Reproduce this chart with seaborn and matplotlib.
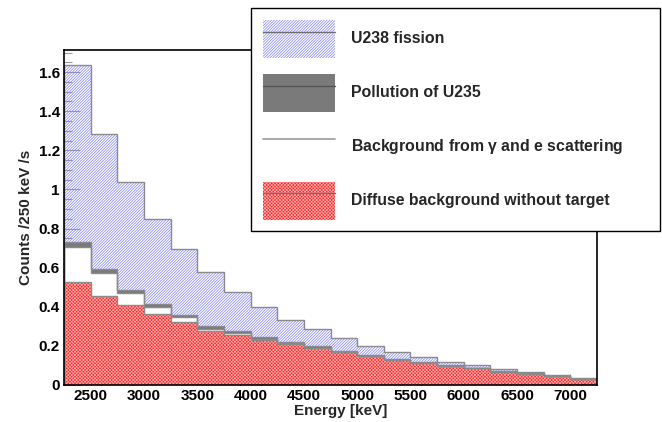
import numpy as np
import matplotlib
matplotlib.use("Agg")
import matplotlib.pyplot as plt
import seaborn as sns
from matplotlib.patches import Patch
from matplotlib.lines import Line2D
from matplotlib.ticker import MultipleLocator, FormatStrFormatter

# -----------------------------
# Data (counts /250 keV /s per energy bin)
# -----------------------------
bin_edges = [2250, 2500, 2750, 3000, 3250, 3500, 3750, 4000, 4250, 4500, 4750,
             5000, 5250, 5500, 5750, 6000, 6250, 6500, 6750, 7000, 7250]

diffuse_bkg = [0.528, 0.455, 0.408, 0.361, 0.323, 0.278, 0.258, 0.230, 0.212, 0.190,
               0.169, 0.148, 0.128, 0.114, 0.098, 0.085, 0.068, 0.056, 0.046, 0.031]
gamma_e_bkg = [0.178, 0.119, 0.061, 0.037, 0.023, 0.009, 0.006, 0.005, 0.002, 0.001,
               0.000, 0.000, 0.000, 0.000, 0.000, 0.000, 0.000, 0.000, 0.000, 0.000]
u235_pollution = [0.024, 0.021, 0.017, 0.015, 0.012, 0.013, 0.012, 0.011, 0.008, 0.007,
                  0.006, 0.005, 0.005, 0.004, 0.004, 0.003, 0.003, 0.003, 0.002, 0.002]
u238_fission = [0.906, 0.688, 0.550, 0.437, 0.336, 0.276, 0.201, 0.154, 0.112, 0.087,
                0.067, 0.048, 0.037, 0.027, 0.016, 0.012, 0.010, 0.005, 0.002, 0.002]

labels = ["U238 fission", "Pollution of U235",
          r"Background from $\gamma$ and e scattering", "Diffuse background without target"]

# -----------------------------
# Style
# -----------------------------
sns.set_style("ticks")
plt.rcParams["font.family"] = ["Liberation Sans", "DejaVu Sans"]
plt.rcParams["font.weight"] = "bold"
plt.rcParams["mathtext.fontset"] = "custom"
plt.rcParams["mathtext.rm"] = "Liberation Sans:bold"
plt.rcParams["mathtext.it"] = "Liberation Sans:bold"
plt.rcParams["hatch.linewidth"] = 0.5

BLUE = "#7f7fff"
RED = "#ff2626"
RED_DOTS = "#ffaaaa"
DARK = "#7a7a7a"
EDGE = "#8a8a8a"
BLUE_HATCH = "////////////"
RED_HATCH = "xxxxxxxxxx"

fig = plt.figure(figsize=(6.62, 4.22), dpi=100)
ax = fig.add_axes([0.0967, 0.0877, 0.8051, 0.7938])

edges = np.array(bin_edges)
layers = [diffuse_bkg, gamma_e_bkg, u235_pollution, u238_fission]
bottom = np.zeros(len(diffuse_bkg))
tops = []
for vals in layers:
    top = bottom + np.array(vals)
    tops.append((bottom.copy(), top))
    bottom = top

# diffuse background (red dotted fill)
b, t = tops[0]
ax.stairs(t, edges, baseline=b, fill=True, facecolor=RED, edgecolor=RED_DOTS,
          hatch=RED_HATCH, linewidth=0)
# gamma / e scattering (empty)
b, t = tops[1]
ax.stairs(t, edges, baseline=b, fill=True, facecolor="white", linewidth=0)
# U235 pollution (dark grey)
b, t = tops[2]
ax.stairs(t, edges, baseline=b, fill=True, facecolor=DARK, linewidth=0)
# U238 fission (blue hatch, transparent)
b, t = tops[3]
ax.stairs(t, edges, baseline=b, fill=True, facecolor="none", edgecolor=BLUE,
          hatch=BLUE_HATCH, linewidth=0)

# outlines of each stacked level
for b, t in tops:
    ax.stairs(t, edges, fill=False, color=EDGE, linewidth=1.0)

ax.set_xlim(2250, 7250)
ax.set_ylim(0, 1.713)
ax.set_axisbelow(True)

ax.xaxis.set_minor_locator(MultipleLocator(100))
ax.yaxis.set_major_locator(MultipleLocator(0.2))
ax.yaxis.set_minor_locator(MultipleLocator(0.05))
ax.yaxis.set_major_formatter(FormatStrFormatter("%g"))
ax.set_xticks([2500, 3000, 3500, 4000, 4500, 5000, 5500, 6000, 6500, 7000])

ax.tick_params(axis="both", which="both", direction="in", color="#999999", width=0.8,
               labelsize=11, labelcolor="black", top=False, right=False)
ax.tick_params(axis="y", which="major", length=11.5, pad=3)
ax.tick_params(axis="y", which="minor", length=5.8)
ax.tick_params(axis="x", which="major", length=8, pad=3)
ax.tick_params(axis="x", which="minor", length=4)
for lab in ax.get_xticklabels() + ax.get_yticklabels():
    lab.set_fontweight("bold")

for sp in ax.spines.values():
    sp.set_visible(True)
    sp.set_color("black")
    sp.set_linewidth(1.2)

ax.set_xlabel("Energy [keV]", fontsize=11, fontweight="bold")
ax.xaxis.set_label_coords(0.52, -0.056)
ax.set_ylabel("Counts /250 keV /s", fontsize=11, fontweight="bold")
ax.yaxis.set_label_coords(-0.058, 0.5)

# -----------------------------
# Legend
# -----------------------------
handles = [
    (Patch(facecolor="none", edgecolor=BLUE, hatch=BLUE_HATCH, linewidth=0),
     Line2D([], [], color="#6e6e6e", linewidth=1.0)),
    (Patch(facecolor=DARK, edgecolor=DARK, linewidth=0),
     Line2D([], [], color="#555555", linewidth=1.0)),
    Line2D([], [], color="#9a9a9a", linewidth=1.2),
    (Patch(facecolor=RED, edgecolor=RED_DOTS, hatch=RED_HATCH, linewidth=0),
     Line2D([], [], color="#6e6e6e", linewidth=1.0)),
]
leg = fig.legend(handles, labels, loc="upper left",
                 bbox_to_anchor=(0.379, 0.881, 0.618, 0.1), mode="expand",
                 prop={"weight": "bold", "size": 11.4}, frameon=True, fancybox=False,
                 handlelength=4.55, handleheight=3.32, labelspacing=1.0,
                 handletextpad=1.0, borderpad=0.75, borderaxespad=0)
leg.get_frame().set_edgecolor("black")
leg.get_frame().set_linewidth(1.0)
leg.get_frame().set_alpha(1.0)

fig.savefig("out.png", dpi=100)
